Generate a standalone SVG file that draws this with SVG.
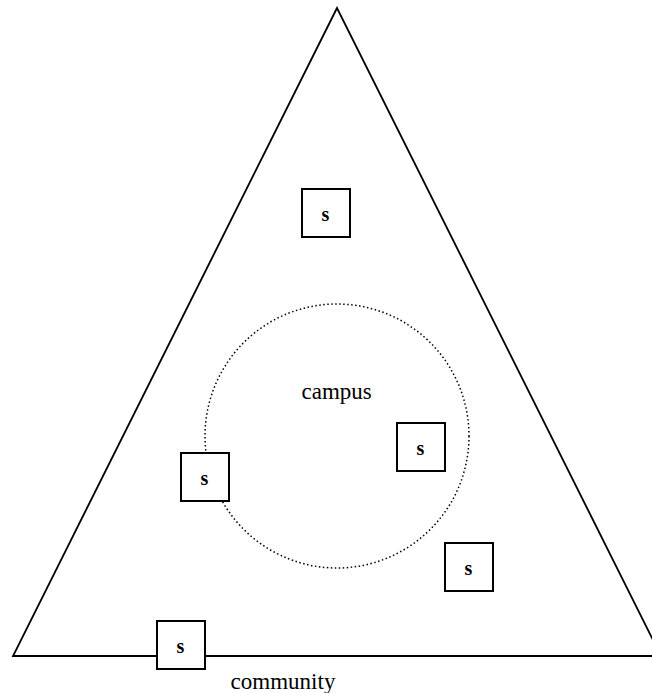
<svg xmlns="http://www.w3.org/2000/svg" width="652" height="693" viewBox="0 0 652 693">
<style>
.box rect{fill:#fff;stroke:#000;stroke-width:2}
.box text{font-family:"Liberation Serif",serif;font-size:20px;font-weight:bold;text-anchor:middle}
.lbl{font-family:"Liberation Serif",serif;font-size:23px;text-anchor:middle}
</style>
<rect width="652" height="693" fill="#fff"/>
<g id="community">
<polygon points="337,8 13,656 661,656" fill="none" stroke="#000" stroke-width="1.8"/>
<text class="lbl" x="283" y="689">community</text>
</g>
<g id="campus">
<circle cx="337" cy="436" r="132" fill="none" stroke="#000" stroke-width="1.5" stroke-dasharray="1.5,2.5"/>
<text class="lbl" x="336.7" y="399">campus</text>
</g>
<g id="s1" class="box"><rect x="302" y="189" width="48" height="48"/><text x="325.5" y="221">s</text></g>
<g id="s2" class="box"><rect x="397" y="423" width="48" height="48"/><text x="420.5" y="455">s</text></g>
<g id="s3" class="box"><rect x="181" y="453" width="48" height="48"/><text x="204.5" y="485">s</text></g>
<g id="s4" class="box"><rect x="445" y="543" width="48" height="48"/><text x="468.5" y="575">s</text></g>
<g id="s5" class="box"><rect x="157" y="621" width="48" height="48"/><text x="180.5" y="653">s</text></g>
<g id="connectors"></g>
</svg>
